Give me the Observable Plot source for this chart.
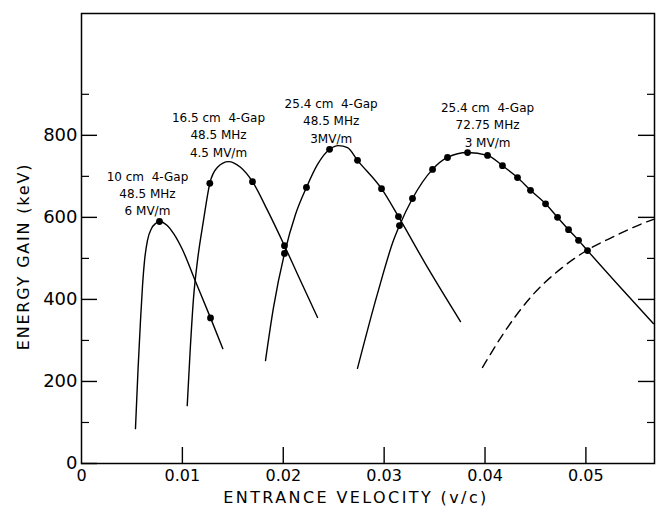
<!DOCTYPE html>
<html><head><meta charset="utf-8">
<script src="https://cdn.jsdelivr.net/npm/d3@7"></script>
<script src="https://cdn.jsdelivr.net/npm/@observablehq/plot@0.6"></script>
<style>
body{margin:0;background:#fff;}
</style></head><body><div id="chart"></div>
<script>
// Energy gain (keV) vs entrance velocity (v/c)
const curve10cm = [[0.00535,85],[0.0056,227],[0.00585,349],[0.00605,434],[0.00625,495],[0.00654,544],[0.00694,573],[0.00734,585],[0.00773,590],[0.0085,580],[0.00915,560],[0.00998,523],[0.0112,450],[0.01279,355],[0.01401,280]];
const curve16cm = [[0.01048,141],[0.01076,270],[0.0111,402],[0.0115,495],[0.01209,592],[0.01272,683],[0.01348,722],[0.01457,736],[0.01576,722],[0.01695,687],[0.01844,617],[0.02012,531],[0.0217,446],[0.0234,356]];
const curve25cm48 = [[0.01824,251],[0.01903,380],[0.02012,512],[0.02121,607],[0.0223,673],[0.0234,729],[0.02459,766],[0.02548,775],[0.02637,770],[0.02736,739],[0.02974,670],[0.03142,602],[0.0343,478],[0.03757,346]];
const curve25cm72 = [[0.02736,232],[0.02934,414],[0.03093,544],[0.03152,580],[0.03281,646],[0.0348,717],[0.03628,746],[0.03827,758],[0.04025,751],[0.04173,726],[0.04322,697],[0.04451,666],[0.046,633],[0.04719,600],[0.04828,570],[0.04927,544],[0.05016,519],[0.05343,429],[0.0567,341]];
const curveDashed = [[0.03975,234],[0.04183,317],[0.04451,405],[0.04778,480],[0.05026,522],[0.05274,553],[0.05591,588],[0.0567,595]];

const dots10cm = [[0.00773,590],[0.01279,355]];
const dots16cm = [[0.01272,683],[0.01695,687],[0.02012,531]];
const dots25cm48 = [[0.02012,512],[0.0223,673],[0.02459,766],[0.02736,739],[0.02974,670],[0.03142,602]];
const dots25cm72 = [[0.03152,580],[0.03281,646],[0.0348,717],[0.03628,746],[0.03827,758],[0.04025,751],[0.04173,726],[0.04322,697],[0.04451,666],[0.046,633],[0.04719,600],[0.04828,570],[0.04927,544],[0.05016,519]];

const labelTexts = ["10 cm  4-Gap\n48.5 MHz\n6 MV/m","16.5 cm  4-Gap\n48.5 MHz\n4.5 MV/m","25.4 cm  4-Gap\n48.5 MHz\n3MV/m","25.4 cm  4-Gap\n72.75 MHz\n3 MV/m"];
const labelX = [0.00654, 0.01358, 0.02475, 0.04025];
const labelY = [661, 804, 838, 828];

const xTickValues = [0, 0.01, 0.02, 0.03, 0.04, 0.05];
const xTickLabels = ["0", "0.01", "0.02", "0.03", "0.04", "0.05"];
const yMajor = [0, 200, 400, 600, 800];
const yMinor = [100, 300, 500, 700, 900];
const xLabel = "ENTRANCE VELOCITY (v/c)";
const yLabel = "ENERGY GAIN (keV)";

const W = 658, H = 514, mL = 81, mR = 4, mT = 13, mB = 51;
const pw = W - mL - mR, ph = H - mT - mB;

const solid = [curve10cm, curve16cm, curve25cm48, curve25cm72]
  .flatMap((pts, i) => pts.map(([x, y]) => ({x, y, id: i})));
const dashed = curveDashed.map(([x, y]) => ({x, y}));
const dots = [dots10cm, dots16cm, dots25cm48, dots25cm72].flat().map(([x, y]) => ({x, y}));
const labels = labelTexts.map((t, i) => ({text: t, x: labelX[i], y: labelY[i]}));

const chart = Plot.plot({
  width: W, height: H,
  marginLeft: mL, marginRight: mR, marginTop: mT, marginBottom: mB,
  style: {fontFamily: "DejaVu Sans", color: "black", background: "white"},
  x: {domain: [0, 0.0568]},
  y: {domain: [0, 1097]},
  marks: [
    Plot.frame({stroke: "black", strokeWidth: 1.5}),
    Plot.tickY(yMajor, {y: d => d, insetRight: pw - 16, strokeWidth: 1.4}),
    Plot.tickY(yMinor, {y: d => d, insetRight: pw - 8, strokeWidth: 1.2}),
    Plot.tickY(yMajor.filter(d => d > 0), {y: d => d, insetLeft: pw - 16, strokeWidth: 1.4}),
    Plot.tickY(yMinor, {y: d => d, insetLeft: pw - 7, strokeWidth: 1.2}),
    Plot.tickX(xTickValues.filter(d => d > 0), {x: d => d, insetTop: ph - 16, strokeWidth: 1.4}),
    Plot.axisY({ticks: yMajor, tickSize: 0, tickPadding: 4, fontSize: 18, label: null}),
    Plot.axisX({ticks: xTickValues, tickSize: 0, tickPadding: 6, fontSize: 16, label: null,
      tickFormat: d => xTickLabels[xTickValues.indexOf(d)] ?? ""}),
    Plot.line(solid, {x: "x", y: "y", z: "id", curve: "monotone-x", stroke: "black", strokeWidth: 1.4}),
    Plot.line(dashed, {x: "x", y: "y", curve: "monotone-x", stroke: "black", strokeWidth: 1.4, strokeDasharray: "9,6"}),
    Plot.dot(dots, {x: "x", y: "y", r: 3.4, fill: "black", stroke: "none"}),
    Plot.text(labels, {x: "x", y: "y", text: "text", fontSize: 12, lineHeight: 1.45, fill: "black"}),
    Plot.text([yLabel], {frameAnchor: "left", textAnchor: "middle", rotate: -90, dx: -58, dy: 18, fontSize: 16, fill: "black"}),
    Plot.text([xLabel], {frameAnchor: "bottom", textAnchor: "middle", dy: 39, dx: -12, fontSize: 16, fill: "black"})
  ]
});
const svgTexts = d3.select(chart).selectAll("text");
svgTexts.filter(function() { return this.textContent === xLabel; }).style("letter-spacing", "2.4px");
svgTexts.filter(function() { return this.textContent === yLabel; }).style("letter-spacing", "1.8px");
document.getElementById("chart").appendChild(chart);
</script></body></html>
